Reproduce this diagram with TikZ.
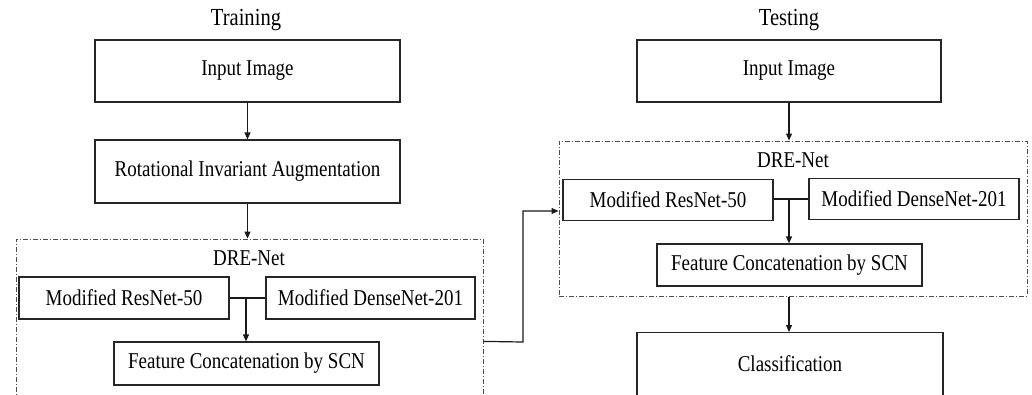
\documentclass[tikz,border=0pt]{standalone}
\usepackage{fontspec}
\setmainfont{Liberation Serif}[FakeStretch=0.84]
\usetikzlibrary{arrows.meta,calc}
\tikzset{
  box/.style={draw=black!85, line width=1.2pt, inner sep=0pt, font=\fontsize{22.6}{26}\selectfont},
  dre/.style={draw=black!70, line width=1pt, inner sep=0pt, dash pattern=on 5pt off 2pt on 1pt off 2pt},
  lbl/.style={inner sep=0pt, font=\fontsize{22.6}{26}\selectfont},
  ttl/.style={inner sep=0pt, font=\fontsize{24.5}{28}\selectfont},
  arr/.style={draw=black!90, line width=1.2pt, -{Triangle[length=7pt,width=6pt]}},
  ln/.style={draw=black!90, line width=1.2pt}
}
\begin{document}
\begin{tikzpicture}[x=1pt,y=-1pt]
\useasboundingbox (0,0) rectangle (1032,394);
\clip (0,0) rectangle (1032,394);
% ---------- Training ----------
\node[ttl] (trT) at (246,20) {Training};
\node[box, minimum width=305pt, minimum height=62pt] (trIn) at (247.5,71) {Input Image};
\node[box, minimum width=305pt, minimum height=63pt] (trRot) at (247.5,171.5) {Rotational Invariant Augmentation};
\node[dre, minimum width=467pt, minimum height=158pt] (trDRE) at (249.5,318) {};
\node[lbl] (trDL) at (249,258) {DRE-Net};
\node[box, minimum width=210pt, minimum height=42pt] (trRes) at (124,298) {Modified ResNet-50};
\node[box, minimum width=209pt, minimum height=42pt] (trDen) at (370.5,298) {Modified DenseNet-201};
\node[box, minimum width=265pt, minimum height=43pt] (trSCN) at (246.5,363.5) {Feature Concatenation by SCN};
\coordinate (trJ) at (246,298);
\draw[arr] (trIn.south) -- (trRot.north);
\draw[arr] (trRot.south) -- (trRot.south |- trDRE.north);
\draw[ln] (trRes.east) -- (trDen.west);
\draw[arr] (trJ) -- (trJ |- trSCN.north);
% ---------- Testing ----------
\node[ttl] (teT) at (789,20) {Testing};
\node[box, minimum width=304pt, minimum height=62pt] (teIn) at (789,71) {Input Image};
\node[dre, minimum width=468pt, minimum height=155pt] (teDRE) at (793,218.5) {};
\node[lbl] (teDL) at (793,160) {DRE-Net};
\node[box, minimum width=210pt, minimum height=41pt] (teRes) at (668,200) {Modified ResNet-50};
\node[box, minimum width=210pt, minimum height=41pt] (teDen) at (914,199) {Modified DenseNet-201};
\node[box, minimum width=265pt, minimum height=42pt] (teSCN) at (789.5,265) {Feature Concatenation by SCN};
\node[box, minimum width=306pt, minimum height=64pt, anchor=north] (teCls) at (790,332) {};
\node[lbl] (teClsT) at (790,364) {Classification};
\coordinate (teJ) at (789,199);
\draw[arr] (teIn.south) -- (teIn.south |- teDRE.north);
\draw[ln] (teRes.east |- teJ) -- (teDen.west |- teJ);
\draw[arr] (teJ) -- (teJ |- teSCN.north);
\draw[arr] (teJ |- teDRE.south) -- (teJ |- teCls.north);
% ---------- link ----------
\coordinate (lkA) at (trDRE.east |- trSCN.north);
\coordinate (lkB) at (teDRE.west |- 0,211);
\draw[arr] (lkA) -- (523,342) |- (lkB);
\end{tikzpicture}
\end{document}
